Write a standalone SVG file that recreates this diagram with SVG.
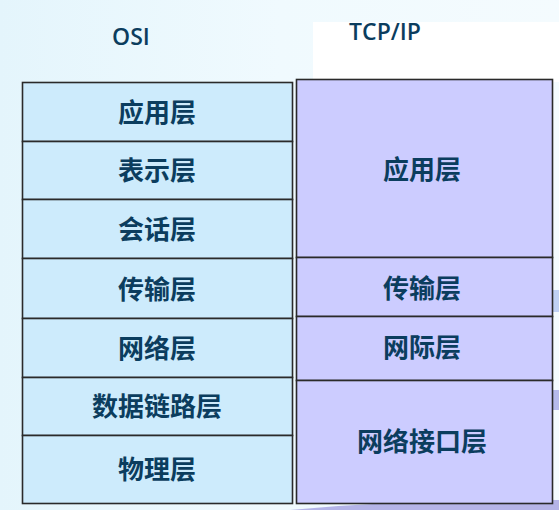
<svg xmlns="http://www.w3.org/2000/svg" width="559" height="510" viewBox="0 0 559 510">
<defs>
<linearGradient id="bg" x1="0" y1="0" x2="1" y2="0">
<stop offset="0" stop-color="#e4f5fc"/>
<stop offset="0.5" stop-color="#f0fafe"/>
<stop offset="1" stop-color="#f4fbfe"/>
</linearGradient>
<style>
.osi{fill:#cdebfc;stroke:#2a2a2a;stroke-width:1.6}
.tcp{fill:#ccccff;stroke:#2a2a2a;stroke-width:1.6}
.lbl{font-family:"Noto Sans CJK SC",sans-serif;font-size:26px;font-weight:bold;fill:#0b3d5e;text-anchor:middle;dominant-baseline:central}
.ttl{font-family:"Open Sans","DejaVu Sans",sans-serif;font-size:23px;font-weight:600;fill:#0b3d5e;text-anchor:middle;dominant-baseline:central}
</style>
</defs>
<rect width="559" height="510" fill="url(#bg)"/>
<rect x="313" y="22" width="246" height="60" fill="#ffffff"/>
<g id="decor" opacity="0.6">
<rect x="553" y="290" width="6" height="22" fill="#9fb6ee"/>
<rect x="553" y="390" width="6" height="20" fill="#8d8fe0"/>
<path d="M290 510 Q420 498 559 500 L559 510 Z" fill="#8c86d8"/>
</g>
<text class="ttl" x="131" y="36">OSI</text>
<text class="ttl" x="385" y="31">TCP/IP</text>
<g id="osi-app"><rect class="osi" x="22.5" y="82.5" width="270" height="59"/><text class="lbl" x="157" y="110">应用层</text></g>
<g id="osi-pres"><rect class="osi" x="22.5" y="141.5" width="270" height="58"/><text class="lbl" x="157" y="168.5">表示层</text></g>
<g id="osi-sess"><rect class="osi" x="22.5" y="199.5" width="270" height="59"/><text class="lbl" x="157" y="227.5">会话层</text></g>
<g id="osi-trans"><rect class="osi" x="22.5" y="258.5" width="270" height="60"/><text class="lbl" x="157" y="287">传输层</text></g>
<g id="osi-net"><rect class="osi" x="22.5" y="318.5" width="270" height="59"/><text class="lbl" x="157" y="346">网络层</text></g>
<g id="osi-link"><rect class="osi" x="22.5" y="377.5" width="270" height="58"/><text class="lbl" x="157" y="404.5">数据链路层</text></g>
<g id="osi-phys"><rect class="osi" x="22.5" y="435.5" width="270" height="68"/><text class="lbl" x="157" y="467">物理层</text></g>
<g id="tcp-app"><rect class="tcp" x="296.5" y="79.5" width="256" height="178"/><text class="lbl" x="422" y="167">应用层</text></g>
<g id="tcp-trans"><rect class="tcp" x="296.5" y="257.5" width="256" height="59"/><text class="lbl" x="422" y="286">传输层</text></g>
<g id="tcp-inet"><rect class="tcp" x="296.5" y="316.5" width="256" height="64"/><text class="lbl" x="422" y="345">网际层</text></g>
<g id="tcp-nif"><rect class="tcp" x="296.5" y="380.5" width="256" height="123"/><text class="lbl" x="422" y="439">网络接口层</text></g>
<g id="connectors"/>
</svg>
